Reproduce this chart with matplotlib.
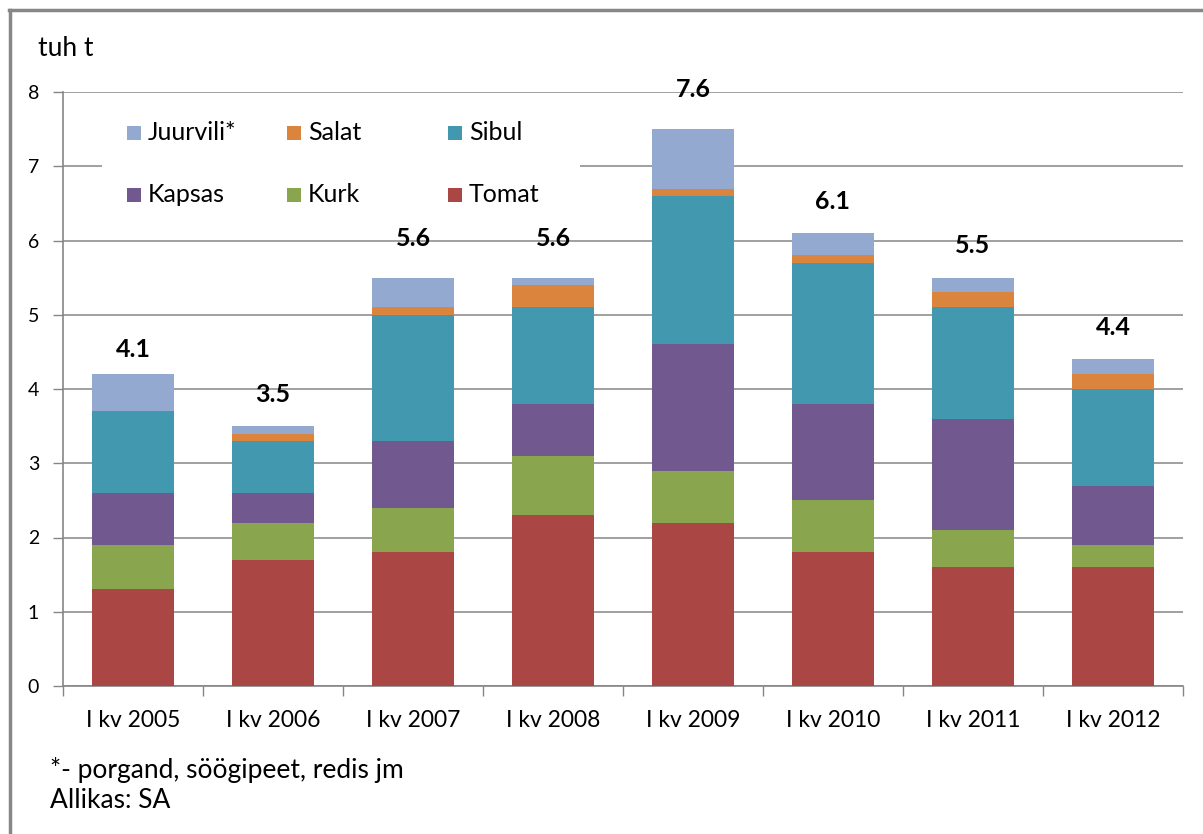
import numpy as np
import matplotlib
matplotlib.use("Agg")
import matplotlib.pyplot as plt
from matplotlib import font_manager
from matplotlib.patches import Rectangle
from matplotlib.lines import Line2D

# ---- data ----
categories = ["I kv 2005", "I kv 2006", "I kv 2007", "I kv 2008",
              "I kv 2009", "I kv 2010", "I kv 2011", "I kv 2012"]
tomat = [1.3, 1.7, 1.8, 2.3, 2.2, 1.8, 1.6, 1.6]
kurk = [0.6, 0.5, 0.6, 0.8, 0.7, 0.7, 0.5, 0.3]
kapsas = [0.7, 0.4, 0.9, 0.7, 1.7, 1.3, 1.5, 0.8]
sibul = [1.1, 0.7, 1.7, 1.3, 2.0, 1.9, 1.5, 1.3]
salat = [0.0, 0.1, 0.1, 0.3, 0.1, 0.1, 0.2, 0.2]
juurvili = [0.5, 0.1, 0.4, 0.1, 0.8, 0.3, 0.2, 0.2]
total_labels = [4.1, 3.5, 5.6, 5.6, 7.6, 6.1, 5.5, 4.4]

series_names = ["Tomat", "Kurk", "Kapsas", "Sibul", "Salat", "Juurvili*"]
series_values = [tomat, kurk, kapsas, sibul, salat, juurvili]
series_colors = ["#AA4643", "#89A54E", "#71588F", "#4198AF", "#DB843D", "#93A9CF"]

y_ticks = [0, 1, 2, 3, 4, 5, 6, 7, 8]

# ---- fonts ----
names = {f.name for f in font_manager.fontManager.ttflist}
base_font = "Lato" if "Lato" in names else "DejaVu Sans"
plt.rcParams["font.family"] = [base_font, "DejaVu Sans"]

W, H = 1203, 834
fig = plt.figure(figsize=(W / 100, H / 100), dpi=100)

ax_l, ax_r, ax_b, ax_t = 63, 1183, 686, 92
ax = fig.add_axes([ax_l / W, 1 - ax_b / H, (ax_r - ax_l) / W, (ax_b - ax_t) / H])

grid_color = "#868686"
x = np.arange(len(categories))
bottom = np.zeros(len(categories))
for name, vals, col in zip(series_names, series_values, series_colors):
    ax.bar(x, vals, width=0.585, bottom=bottom, color=col, label=name, zorder=3)
    bottom = bottom + np.array(vals)

for xi, lv in zip(x, total_labels):
    ax.text(xi, lv + 0.43, f"{lv:.1f}", ha="center", va="center",
            fontsize=18, fontweight="bold", color="black", zorder=5)

ax.set_xlim(-0.5, len(categories) - 0.5)
ax.set_ylim(0, 8)
ax.set_yticks(y_ticks)
ax.set_yticklabels([str(v) for v in y_ticks], fontsize=14)
ax.tick_params(axis="y", direction="out", length=7.2, width=1, color=grid_color, pad=10)
ax.yaxis.grid(True, color=grid_color, linewidth=1.1, zorder=0)
ax.set_axisbelow(True)

# category boundaries as major ticks, labels at centres via minor ticks
ax.set_xticks(np.arange(-0.5, len(categories), 1.0))
ax.set_xticklabels([])
ax.set_xticks(x, minor=True)
ax.set_xticklabels(categories, minor=True, fontsize=16.5)
ax.tick_params(axis="x", which="major", direction="out", length=7.2, width=1, color=grid_color)
ax.tick_params(axis="x", which="minor", length=0, pad=17)

for s in ["top", "right"]:
    ax.spines[s].set_visible(False)
for s in ["left", "bottom"]:
    ax.spines[s].set_color(grid_color)
    ax.spines[s].set_linewidth(1.2)

# ---- legend (Excel-like layout, white box over gridlines) ----
def axfx(px):
    return (px - ax_l) / (ax_r - ax_l)

def axfy(py):
    return (ax_b - py) / (ax_b - ax_t)

ax.add_patch(Rectangle((axfx(102), axfy(230)), axfx(580) - axfx(102), axfy(100) - axfy(230),
                       transform=ax.transAxes, facecolor="white", edgecolor="none", zorder=1))
legend_order = ["Juurvili*", "Salat", "Sibul", "Kapsas", "Kurk", "Tomat"]
col_px = [127, 287, 448]
row_py = [133, 195]
sq = 14
for i, nm in enumerate(legend_order):
    c = series_colors[series_names.index(nm)]
    cx = col_px[i % 3]
    cy = row_py[i // 3]
    ax.add_patch(Rectangle((axfx(cx), axfy(cy + sq / 2)), axfx(cx + sq) - axfx(cx),
                           axfy(cy - sq / 2) - axfy(cy + sq / 2), transform=ax.transAxes,
                           facecolor=c, edgecolor="none", zorder=2))
    ax.text(axfx(cx + 21), axfy(cy), nm, transform=ax.transAxes, ha="left", va="center",
            fontsize=18, zorder=2)

# ---- outer texts ----
fig.text(38 / W, 1 - 49 / H, "tuh t", ha="left", va="center", fontsize=19)
fig.text(50 / W, 1 - 770 / H, "*- porgand, söögipeet, redis jm", ha="left", va="center", fontsize=19)
fig.text(50 / W, 1 - 801 / H, "Allikas: SA", ha="left", va="center", fontsize=19)

# ---- outer frame (left and top edges) ----
fig.add_artist(Line2D([10 / W, 10 / W], [0, 1 - 9.5 / H], color="#878787", linewidth=2.5))
fig.add_artist(Line2D([8.8 / W, 1], [1 - 9.5 / H, 1 - 9.5 / H], color="#878787", linewidth=2.5))

fig.savefig("out.png", dpi=100, facecolor="white")
